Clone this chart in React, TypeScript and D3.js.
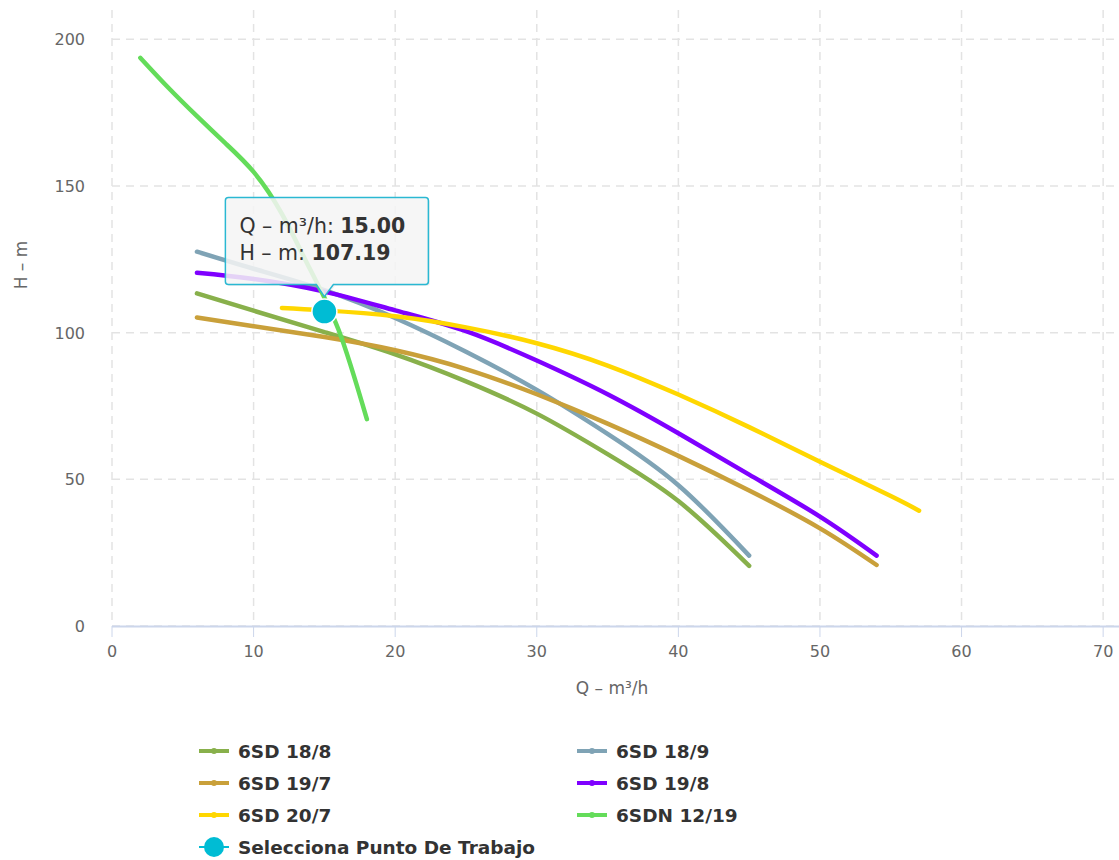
import React from "react";
import * as d3 from "d3";

const W = 1119;
const H = 860;

const xTicks = [0, 10, 20, 30, 40, 50, 60, 70];
const yTicks = [0, 50, 100, 150, 200];

const seriesNames = ["6SD 18/8", "6SD 18/9", "6SD 19/7", "6SD 19/8", "6SD 20/7", "6SDN 12/19"];
const seriesColors = ["#88b04b", "#7fa3b5", "#c9a03a", "#7f00ff", "#ffd700", "#64dc5a"];

const q1888 = [6, 10, 15, 20, 25, 30, 35, 40, 45];
const h1888 = [113.4, 107.5, 100.2, 92.6, 83.4, 72.4, 58.6, 42.6, 20.5];

const q1889 = [6, 10, 15, 20, 25, 30, 35, 40, 45];
const h1889 = [127.6, 121.8, 114.5, 105, 93.5, 80.5, 65.5, 48, 24];

const q1907 = [6, 10, 15, 20, 25, 30, 35, 40, 45, 50, 54];
const h1907 = [105.2, 102.2, 98.5, 94, 87.6, 79, 69, 58, 46.2, 33.3, 20.8];

const q1908 = [6, 10, 15, 20, 25, 30, 35, 40, 45, 50, 54];
const h1908 = [120.4, 118.3, 114, 107.6, 100.5, 90.5, 79, 65.7, 51.6, 37.3, 24];

const q2007 = [12, 15, 20, 25, 30, 35, 40, 45, 50, 55, 57];
const h2007 = [108.4, 107.6, 105.6, 101.8, 96.4, 88.8, 78.9, 67.8, 56, 44.3, 39.3];

const qN1219 = [2, 4, 6, 8, 10, 12, 14, 16, 18];
const hN1219 = [193.7, 183.4, 173.8, 164.6, 154.8, 140.5, 121.5, 101, 70.5];

const pointName = "Selecciona Punto De Trabajo";
const pointQ = [15];
const pointH = [107.19];
const pointColor = "#00bcd4";

const xTitle = "Q – m³/h";
const yTitle = "H – m";

const FONT = "'DejaVu Sans', sans-serif";

export default function App() {
  const x = d3.scaleLinear().domain([0, 71.12]).range([112, 1119]);
  const y = d3.scaleLinear().domain([0, 210]).range([626, 10]);

  const seriesQ = [q1888, q1889, q1907, q1908, q2007, qN1219];
  const seriesH = [h1888, h1889, h1907, h1908, h2007, hN1219];

  const line = d3
    .line<[number, number]>()
    .x((d) => x(d[0]))
    .y((d) => y(d[1]))
    .curve(d3.curveNatural);

  const px = x(pointQ[0]);
  const py = y(pointH[0]);

  const tipW = 203;
  const tipH = 87;
  const tipLeft = px - 99;
  const tipBottom = py - 27;
  const tipTop = tipBottom - tipH;
  const tipPath = [
    `M${tipLeft + 3},${tipTop}`,
    `L${tipLeft + tipW - 3},${tipTop}`,
    `Q${tipLeft + tipW},${tipTop} ${tipLeft + tipW},${tipTop + 3}`,
    `L${tipLeft + tipW},${tipBottom - 3}`,
    `Q${tipLeft + tipW},${tipBottom} ${tipLeft + tipW - 3},${tipBottom}`,
    `L${px + 9},${tipBottom}`,
    `L${px},${tipBottom + 12}`,
    `L${px - 8},${tipBottom}`,
    `L${tipLeft + 3},${tipBottom}`,
    `Q${tipLeft},${tipBottom} ${tipLeft},${tipBottom - 3}`,
    `L${tipLeft},${tipTop + 3}`,
    `Q${tipLeft},${tipTop} ${tipLeft + 3},${tipTop}`,
    "Z",
  ].join(" ");

  const legendItems = [
    { name: seriesNames[0], color: seriesColors[0], col: 0, row: 0 },
    { name: seriesNames[1], color: seriesColors[1], col: 1, row: 0 },
    { name: seriesNames[2], color: seriesColors[2], col: 0, row: 1 },
    { name: seriesNames[3], color: seriesColors[3], col: 1, row: 1 },
    { name: seriesNames[4], color: seriesColors[4], col: 0, row: 2 },
    { name: seriesNames[5], color: seriesColors[5], col: 1, row: 2 },
  ];
  const legX = [199, 577];
  const legY0 = 751;
  const legDY = 32;

  return (
    <div style={{ position: "absolute", left: 0, top: 0 }}>
      <svg width={W} height={H} style={{ display: "block", background: "#fff", fontFamily: FONT }}>
        <g>
          {yTicks.map((t) => (
            <line
              key={"gy" + t}
              x1={112}
              x2={1119}
              y1={y(t)}
              y2={y(t)}
              stroke="#e3e3e3"
              strokeWidth={1.5}
              strokeDasharray="8,6"
            />
          ))}
          {xTicks.map((t) => (
            <line
              key={"gx" + t}
              x1={x(t)}
              x2={x(t)}
              y1={10}
              y2={626}
              stroke="#e3e3e3"
              strokeWidth={1.5}
              strokeDasharray="8,6"
            />
          ))}
        </g>
        <line x1={112} x2={1119} y1={626.5} y2={626.5} stroke="#ccd6eb" strokeWidth={2} />
        {xTicks.map((t) => (
          <g key={"xt" + t}>
            <line x1={x(t)} x2={x(t)} y1={626} y2={637} stroke="#ccd6eb" strokeWidth={1} />
            <text x={x(t)} y={657} textAnchor="middle" fontSize={16} fill="#666">
              {t}
            </text>
          </g>
        ))}
        {yTicks.map((t) => (
          <text key={"yt" + t} x={85} y={y(t) + 6} textAnchor="end" fontSize={16} fill="#666">
            {t}
          </text>
        ))}
        <text x={612} y={694} textAnchor="middle" fontSize={17} fill="#666">
          {xTitle}
        </text>
        <text
          transform={`translate(27,${265}) rotate(-90)`}
          textAnchor="middle"
          fontSize={17}
          fill="#666"
        >
          {yTitle}
        </text>

        {seriesQ.map((qs, i) => (
          <path
            key={"s" + i}
            d={line(qs.map((q, j) => [q, seriesH[i][j]] as [number, number])) || ""}
            fill="none"
            stroke={seriesColors[i]}
            strokeWidth={4.5}
            strokeLinecap="round"
            strokeLinejoin="round"
          />
        ))}

        {pointQ.map((q, i) => (
          <circle
            key={"p" + i}
            cx={x(q)}
            cy={y(pointH[i])}
            r={12.5}
            fill={pointColor}
            stroke="#fff"
            strokeWidth={1.5}
          />
        ))}

        <g>
          <path d={tipPath} fill="rgba(0,0,0,0.06)" transform="translate(1.5,1.5)" />
          <path d={tipPath} fill="rgba(247,247,247,0.85)" stroke="#2ab8d2" strokeWidth={1.5} />
          <text x={tipLeft + 14} y={tipTop + 35} fontSize={20.5} fill="#333">
            Q – m³/h: <tspan fontWeight="bold">{pointQ[0].toFixed(2)}</tspan>
          </text>
          <text x={tipLeft + 14} y={tipTop + 62} fontSize={20.5} fill="#333">
            H – m: <tspan fontWeight="bold">{pointH[0].toFixed(2)}</tspan>
          </text>
        </g>

        {legendItems.map((it) => {
          const lx = legX[it.col];
          const ly = legY0 + it.row * legDY;
          return (
            <g key={it.name}>
              <line x1={lx} x2={lx + 30} y1={ly} y2={ly} stroke={it.color} strokeWidth={4} />
              <circle cx={lx + 15} cy={ly} r={3} fill={it.color} />
              <text x={lx + 39} y={ly + 7} fontSize={18.5} fontWeight="bold" fill="#333">
                {it.name}
              </text>
            </g>
          );
        })}
        <g>
          <line
            x1={legX[0]}
            x2={legX[0] + 30}
            y1={legY0 + 3 * legDY}
            y2={legY0 + 3 * legDY}
            stroke={pointColor}
            strokeWidth={2}
          />
          <circle cx={legX[0] + 15} cy={legY0 + 3 * legDY} r={10} fill={pointColor} />
          <text x={legX[0] + 39} y={legY0 + 3 * legDY + 7} fontSize={18.5} fontWeight="bold" fill="#333">
            {pointName}
          </text>
        </g>
      </svg>
    </div>
  );
}
